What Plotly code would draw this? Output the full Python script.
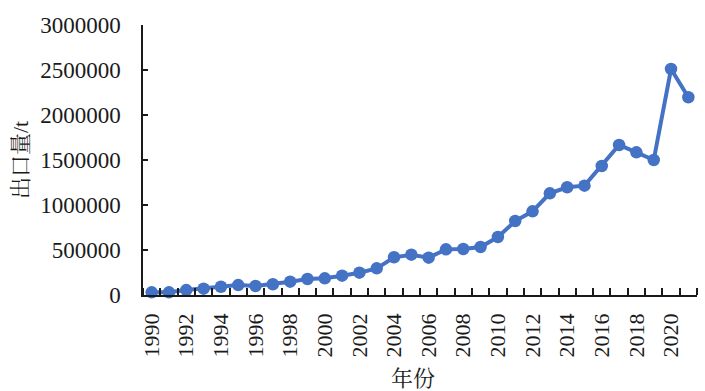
import plotly.graph_objects as go

years = list(range(1990, 2022))
exports = [30000, 30000, 55000, 70000, 92000, 110000, 100000, 119000, 148000, 178000,
           185000, 215000, 248000, 296000, 419000, 448000, 415000, 507000, 511000, 533000,
           644000, 822000, 930000, 1130000, 1197000, 1215000, 1433000, 1667000, 1585000, 1500000,
           2511000, 2197000]
x_tick_labels = [str(y) for y in range(1990, 2021, 2)]
y_tick_vals = [0, 500000, 1000000, 1500000, 2000000, 2500000, 3000000]

font_num = "Liberation Serif, Times New Roman, serif"
font_cjk = "Liberation Serif, Noto Serif CJK SC, Noto Sans CJK SC, serif"

fig = go.Figure()
fig.add_trace(go.Scatter(
    x=years, y=exports, mode="lines+markers",
    line=dict(color="#4472C4", width=4),
    marker=dict(color="#4472C4", size=12.5),
    cliponaxis=False,
))

fig.update_layout(
    width=705, height=391,
    margin=dict(l=143, r=8, t=25, b=96),
    plot_bgcolor="white", paper_bgcolor="white",
    showlegend=False,
    font=dict(family=font_num, size=23, color="#1a1a1a"),
    xaxis=dict(
        range=[1989.5, 2021.5],
        automargin=False,
        tickmode="array",
        tickvals=[int(t) for t in x_tick_labels],
        ticktext=x_tick_labels,
        tickangle=-90,
        ticks="",
        showgrid=False, zeroline=False,
        showline=True, linecolor="#1a1a1a", linewidth=1.5,
        minor=dict(ticks="inside", tick0=1989.5, dtick=1, ticklen=7,
                   tickcolor="#1a1a1a", tickwidth=1.5, showgrid=False),
        tickfont=dict(family=font_num, size=22),
        ticklabelstandoff=8,
    ),
    yaxis=dict(
        range=[0, 3000000],
        automargin=False,
        tickmode="array",
        tickvals=y_tick_vals,
        ticktext=[str(v) for v in y_tick_vals],
        ticks="inside", ticklen=5, tickwidth=1.5, tickcolor="#1a1a1a",
        showgrid=False, zeroline=False,
        showline=True, linecolor="#1a1a1a", linewidth=1.5,
        tickfont=dict(family=font_num, size=23),
        ticklabelstandoff=16,
    ),
    annotations=[
        dict(text="出口量/t", xref="paper", yref="paper", x=0, y=0.5,
             xanchor="center", yanchor="middle",
             xshift=-123, textangle=-90, showarrow=False,
             font=dict(family=font_cjk, size=22, color="#1a1a1a")),
        dict(text="年份", xref="paper", yref="paper", x=0.5, y=0,
             xanchor="center", yanchor="middle",
             xshift=-7, yshift=-83, showarrow=False,
             font=dict(family=font_cjk, size=22, color="#1a1a1a")),
    ],
)

fig.write_html("out.html", config={"displayModeBar": False},
               post_script="document.body.style.margin='0';")
